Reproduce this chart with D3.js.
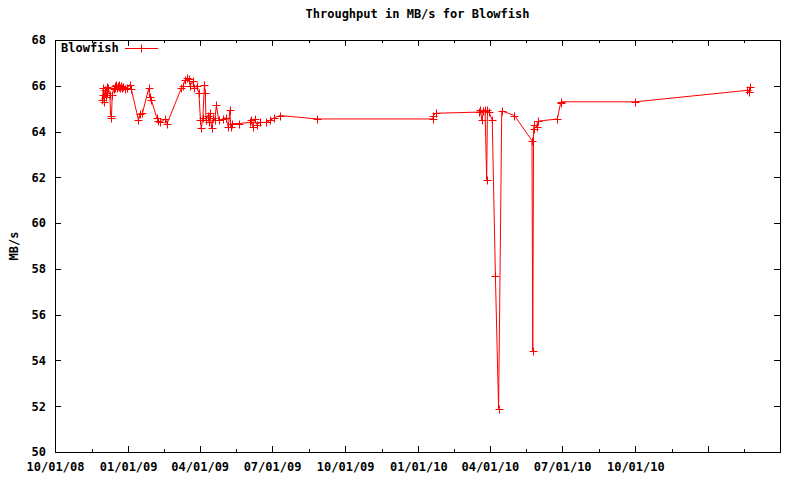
<!DOCTYPE html>
<html>
<head>
<meta charset="utf-8">
<script src="https://d3js.org/d3.v7.min.js"></script>
<style>
    body { margin: 0; background: #fff; }
    text { font-family: "DejaVu Sans Mono", monospace; font-size: 12px; font-weight: bold; fill: #000; }
</style>
</head>
<body>
<div id="content"></div>
<script>
// values
var runDates = [
    "2008-11-29", "2008-11-30", "2008-12-01", "2008-12-02", "2008-12-03", "2008-12-04", "2008-12-05",
    "2008-12-06", "2008-12-07", "2008-12-09", "2008-12-10", "2008-12-11", "2008-12-12", "2008-12-14",
    "2008-12-15", "2008-12-16", "2008-12-17", "2008-12-18", "2008-12-19", "2008-12-20", "2008-12-21",
    "2008-12-22", "2008-12-23", "2008-12-24", "2008-12-26", "2008-12-28", "2008-12-31", "2009-01-03",
    "2009-01-05", "2009-01-14", "2009-01-16", "2009-01-19", "2009-01-27", "2009-01-28", "2009-01-30",
    "2009-02-06", "2009-02-08", "2009-02-10", "2009-02-17", "2009-02-19", "2009-03-09", "2009-03-11",
    "2009-03-14", "2009-03-16", "2009-03-18", "2009-03-20", "2009-03-23", "2009-03-25", "2009-03-28",
    "2009-03-31", "2009-04-02", "2009-04-03", "2009-04-05", "2009-04-07", "2009-04-08", "2009-04-09",
    "2009-04-11", "2009-04-13", "2009-04-14", "2009-04-16", "2009-04-18", "2009-04-20", "2009-04-22",
    "2009-04-25", "2009-04-30", "2009-05-04", "2009-05-07", "2009-05-09", "2009-05-10", "2009-05-12",
    "2009-05-21", "2009-06-03", "2009-06-05", "2009-06-07", "2009-06-09", "2009-06-12", "2009-06-16",
    "2009-06-24", "2009-06-29", "2009-07-04", "2009-07-11", "2009-08-27", "2010-01-19", "2010-01-20",
    "2010-01-23", "2010-03-18", "2010-03-20", "2010-03-22", "2010-03-24", "2010-03-26", "2010-03-28",
    "2010-03-29", "2010-03-31", "2010-04-04", "2010-04-08", "2010-04-12", "2010-04-16", "2010-05-02",
    "2010-05-24", "2010-05-25", "2010-05-26", "2010-05-27", "2010-05-30", "2010-05-31", "2010-06-25",
    "2010-06-29", "2010-06-30", "2010-10-01", "2011-02-19", "2011-02-21", "2011-02-22"
];
var throughput = [
    65.4, 65.6, 65.9, 65.3, 65.8, 65.5, 65.95,
    65.7, 65.9, 65.6, 64.7, 64.6, 65.6, 65.85,
    66.0, 65.9, 66.05, 65.9, 66.0, 65.95, 66.05,
    65.9, 66.0, 65.9, 65.95, 65.85, 65.9, 66.05,
    65.85, 64.5, 64.75, 64.8, 65.9, 65.5, 65.4,
    64.6, 64.45, 64.4, 64.55, 64.35, 65.9, 66.0,
    66.25, 66.35, 66.3, 66.0, 66.2, 65.9, 66.0,
    65.7, 64.5, 64.15, 64.6, 66.05, 65.7, 64.5,
    64.7, 64.4, 64.8, 64.15, 64.6, 64.5, 65.15,
    64.5, 64.55, 64.6, 64.2, 64.95, 64.2, 64.35,
    64.35, 64.4, 64.5, 64.2, 64.55, 64.3, 64.4,
    64.4, 64.5, 64.6, 64.7, 64.55, 64.55, 64.7,
    64.8, 64.85, 64.95, 64.5, 64.9, 64.95, 61.9,
    64.95, 64.85, 64.5, 57.7, 51.9, 64.9, 64.7,
    63.6, 54.4, 64.1, 64.3, 64.2, 64.45, 64.55,
    65.25, 65.3, 65.3, 65.8, 65.75, 65.95
];
var xTickDates = ["2008-10-01", "2009-01-01", "2009-04-01", "2009-07-01", "2009-10-01", "2010-01-01",
    "2010-04-01", "2010-07-01", "2010-10-01", "2011-01-01", "2011-04-01"];
var xTickLabels = ["10/01/08", "01/01/09", "04/01/09", "07/01/09", "10/01/09", "01/01/10",
    "04/01/10", "07/01/10", "10/01/10", "", ""];
var yTickValues = [50, 52, 54, 56, 58, 60, 62, 64, 66, 68];

let width = 800;
let height = 480;
var margin = {top: 40, right: 20, bottom: 28, left: 55};
var innerW = width - margin.left - margin.right;
var innerH = height - margin.top - margin.bottom;

var parseDate = d3.utcParse("%Y-%m-%d");
var data = runDates.map(function(d, i) { return {date: parseDate(d), value: throughput[i]}; });
var majorTicks = xTickDates.map(parseDate);
var minorTicks = [];
for (var i = 0; i < majorTicks.length - 1; i++) {
    minorTicks.push(new Date((majorTicks[i].getTime() + majorTicks[i + 1].getTime()) / 2));
}

var svg = d3.select("#content").append("svg")
    .attr("width", width)
    .attr("height", height)
    .append("g")
    .attr("transform", "translate(" + margin.left + "," + margin.top + ")");

var xScale = d3.scaleUtc()
    .domain([majorTicks[0], majorTicks[majorTicks.length - 1]])
    .range([0, innerW]);

var yScale = d3.scaleLinear()
    .domain([50, 68])
    .range([innerH, 0]);

// ticks point inward on all four sides, like gnuplot's mirrored tics
svg.append("g")
    .attr("transform", "translate(0," + innerH + ")")
    .call(d3.axisBottom(xScale).tickValues(majorTicks).tickSize(-6).tickPadding(10)
        .tickFormat(function(d, i) { return xTickLabels[i]; }));
svg.append("g")
    .attr("transform", "translate(0," + innerH + ")")
    .call(d3.axisBottom(xScale).tickValues(minorTicks).tickSize(-3).tickFormat(""));
svg.append("g")
    .call(d3.axisTop(xScale).tickValues(majorTicks).tickSize(-6).tickFormat(""));
svg.append("g")
    .call(d3.axisTop(xScale).tickValues(minorTicks).tickSize(-3).tickFormat(""));
svg.append("g")
    .call(d3.axisLeft(yScale).tickValues(yTickValues).tickSize(-6).tickPadding(9));
svg.append("g")
    .attr("transform", "translate(" + innerW + ",0)")
    .call(d3.axisRight(yScale).tickValues(yTickValues).tickSize(-6).tickFormat(""));

svg.selectAll(".domain").remove();
svg.selectAll(".tick line").attr("stroke", "#000").attr("shape-rendering", "crispEdges");
svg.selectAll(".tick text")
    .style("font-family", "'DejaVu Sans Mono', monospace")
    .style("font-size", "12px")
    .style("font-weight", "bold")
    .attr("fill", "#000");

svg.append("rect")
    .attr("x", 0)
    .attr("y", 0)
    .attr("width", innerW)
    .attr("height", innerH)
    .attr("fill", "none")
    .attr("stroke", "#000")
    .attr("shape-rendering", "crispEdges");

var line = d3.line()
    .x(function(d) { return xScale(d.date); })
    .y(function(d) { return yScale(d.value); });

svg.append("path")
    .datum(data)
    .attr("d", line)
    .attr("fill", "none")
    .attr("stroke", "#ff0000")
    .attr("stroke-width", 1);

svg.selectAll(".pt")
    .data(data)
    .enter().append("path")
    .attr("class", "pt")
    .attr("d", function(d) {
        var px = Math.round(xScale(d.date)) + 0.5;
        var py = Math.round(yScale(d.value)) + 0.5;
        return "M" + (px - 4) + "," + py + "H" + (px + 4) + "M" + px + "," + (py - 4) + "V" + (py + 4);
    })
    .attr("stroke", "#ff0000")
    .attr("stroke-width", 1)
    .attr("fill", "none");

// key, top left
svg.append("text")
    .attr("x", 6)
    .attr("y", 8)
    .attr("dy", "0.35em")
    .text("Blowfish");
svg.append("line")
    .attr("x1", 70).attr("x2", 103)
    .attr("y1", 8.5).attr("y2", 8.5)
    .attr("stroke", "#ff0000");
svg.append("path")
    .attr("d", "M82.5,8.5H90.5M86.5,4.5V12.5")
    .attr("stroke", "#ff0000");

svg.append("text")
    .attr("x", innerW / 2)
    .attr("y", -22)
    .style("text-anchor", "middle")
    .text("Throughput in MB/s for Blowfish");

svg.append("text")
    .attr("transform", "rotate(-90)")
    .attr("x", -innerH / 2)
    .attr("y", -41)
    .attr("dy", "0.35em")
    .style("text-anchor", "middle")
    .text("MB/s");
</script>
</body>
</html>
